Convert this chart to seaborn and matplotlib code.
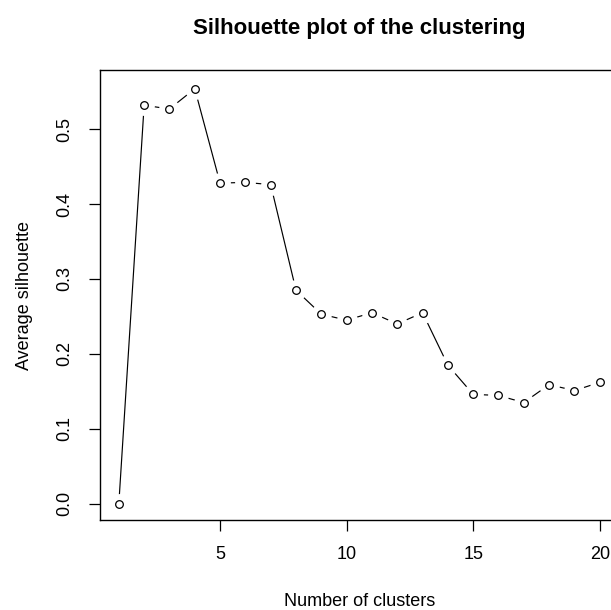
import matplotlib
matplotlib.use("Agg")
import matplotlib.pyplot as plt
import seaborn as sns
import pandas as pd

clusters = list(range(1, 21))
avg_sil = [0.000, 0.532, 0.527, 0.554, 0.428, 0.429, 0.426, 0.285, 0.253, 0.245,
           0.255, 0.240, 0.255, 0.185, 0.146, 0.1445, 0.135, 0.159, 0.151, 0.162]
x_ticks = [5, 10, 15, 20]
y_ticks = [0.0, 0.1, 0.2, 0.3, 0.4, 0.5]

sns.set_style("white")
plt.rcParams['font.family'] = ['Liberation Sans', 'DejaVu Sans']
plt.rcParams['text.color'] = 'black'

df = pd.DataFrame({"k": clusters, "sil": avg_sil})

fig = plt.figure(figsize=(6.11, 6.10), dpi=100)
ax = fig.add_axes([0.163, 0.1475, 0.850, 0.7377])

sns.lineplot(data=df, x="k", y="sil", ax=ax, color="black", linewidth=0.85, zorder=2)
# gaps around points (R type = "b")
ax.plot(df["k"], df["sil"], "o", ms=15, mfc="white", mec="none", ls="none", zorder=3)
ax.plot(df["k"], df["sil"], "o", ms=5.5, mfc="white", mec="black", mew=0.9, ls="none", zorder=4)

ax.set_xlim(0.24, 20.76)
ax.set_ylim(-0.0218, 0.579)
ax.set_xticks(x_ticks)
ax.set_xticklabels([str(t) for t in x_ticks])
ax.set_yticks(y_ticks)
ax.set_yticklabels([f"{t:.1f}" for t in y_ticks], rotation=90, va="center")

for s in ax.spines.values():
    s.set_visible(True)
    s.set_color("black")
    s.set_linewidth(1.0)

ax.tick_params(axis="both", direction="out", length=8, width=0.9, color="black",
               labelsize=13, labelcolor="black", pad=11, bottom=True, left=True)

ax.set_xlabel("Number of clusters", fontsize=13, color="black")
ax.set_ylabel("Average silhouette", fontsize=13, color="black")
ax.xaxis.set_label_coords(0.5, -0.162)
ax.yaxis.set_label_coords(-0.128, 0.5)
ax.set_title("Silhouette plot of the clustering", fontsize=16, fontweight="bold",
             color="black", pad=26)

fig.savefig("out.png", dpi=100)
